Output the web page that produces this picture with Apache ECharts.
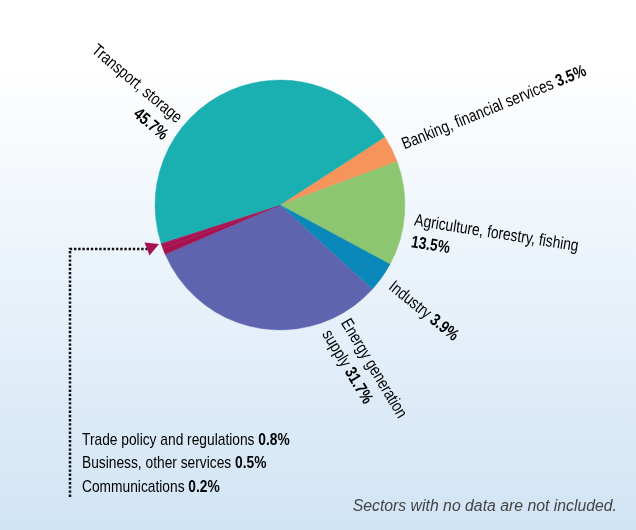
<!DOCTYPE html>
<html><head><meta charset="utf-8">
<script src="https://cdn.jsdelivr.net/npm/echarts@6/dist/echarts.min.js"></script>
<style>html,body{margin:0;padding:0;background:#fff;}#c{width:636px;height:530px;}</style>
</head><body><div id="c"></div>
<script>
// ---- data ----
const categories = ['Banking, financial services', 'Agriculture, forestry, fishing', 'Industry',
  'Energy generation supply', 'Trade policy and regulations', 'Business, other services',
  'Communications', 'Transport, storage'];
const values = [3.5, 13.5, 3.9, 31.7, 0.8, 0.5, 0.2, 45.7];
const sliceColors = ['#F7945C', '#8DC670', '#0A88B9', '#5E65AE', '#A6124F', '#A6124F', '#A6124F', '#1AAFB0'];
const groupedIdx = [4, 5, 6]; // small sectors listed in the bottom-left note
const footnote = 'Sectors with no data are not included.';

// ---- layout / style (not data) ----
const CX = 280, CY = 205, R = 125;
const FONT = '"Liberation Sans", Arial, sans-serif';
const FS = 17, SQUEEZE = 0.81; // horizontal squeeze to imitate a condensed face
// label placement: angle (deg, ccw from 3 o'clock), distance from centre, rotation, align, text lines
const labelPlace = {
  'Banking, financial services': {angle: 26, dist: 136.5, rotate: 22.2, align: 'left', lines: ['Banking, financial services '], valueBreak: false},
  'Agriculture, forestry, fishing': {angle: -11.3, dist: 135.5, rotate: -9, align: 'left', lines: ['Agriculture, forestry, fishing'], valueBreak: true},
  'Industry': {angle: -35.8, dist: 136.5, rotate: -39, align: 'left', lines: ['Industry '], valueBreak: false},
  'Energy generation supply': {angle: -65.5, dist: 133, rotate: -59, align: 'left', lines: ['Energy generation', 'supply '], valueBreak: false},
  'Transport, storage': {angle: 144.6, dist: 132, rotate: -40, align: 'right', lines: ['Transport, storage'], valueBreak: true}
};
const rich = {
  n: {fontFamily: FONT, fontSize: FS, color: '#3a3a3a', lineHeight: 22},
  v: {fontFamily: FONT, fontSize: FS, fontWeight: 'bold', color: '#161616', lineHeight: 22}
};

const chart = echarts.init(document.getElementById('c'), null, {renderer: 'canvas'});

const pieData = categories.map((name, i) => ({
  name: name,
  value: values[i],
  itemStyle: {color: sliceColors[i], borderColor: sliceColors[i], borderWidth: 0.4}
}));

function labelText(i) {
  const pl = labelPlace[categories[i]];
  const v = '{v|' + values[i].toFixed(1) + '%}';
  const ls = pl.lines.map(l => '{n|' + l + '}');
  if (pl.valueBreak) return ls.join('\n') + '\n' + v;
  ls[ls.length - 1] += v;
  return ls.join('\n');
}

const sliceLabels = [];
categories.forEach((name, i) => {
  const pl = labelPlace[name];
  if (!pl) return;
  const a = pl.angle * Math.PI / 180;
  sliceLabels.push({
    type: 'text',
    x: CX + pl.dist * Math.cos(a),
    y: CY - pl.dist * Math.sin(a),
    rotation: pl.rotate * Math.PI / 180,
    scaleX: SQUEEZE,
    silent: true,
    style: {text: labelText(i), rich: rich, align: pl.align, verticalAlign: 'middle'}
  });
});

const bottomTexts = groupedIdx.map((idx, k) => ({
  type: 'text',
  x: 82,
  y: 440 + k * 23.5,
  scaleX: SQUEEZE,
  silent: true,
  style: {
    text: '{n|' + categories[idx] + ' }{v|' + values[idx].toFixed(1) + '%}',
    rich: rich, align: 'left', verticalAlign: 'middle'
  }
}));

const option = {
  animation: false,
  backgroundColor: new echarts.graphic.LinearGradient(0, 0, 0, 1, [
    {offset: 0, color: '#ffffff'},
    {offset: 0.12, color: '#ffffff'},
    {offset: 1, color: '#d1e4f5'}
  ]),
  series: [{
    type: 'pie',
    center: [CX, CY],
    radius: R,
    startAngle: 33,
    clockwise: true,
    avoidLabelOverlap: false,
    silent: true,
    label: {show: false},
    labelLine: {show: false},
    data: pieData
  }],
  graphic: [
    {
      type: 'polyline',
      shape: {points: [[70, 497], [70, 249], [147, 249]]},
      style: {stroke: '#111', lineWidth: 2.5, lineDash: [2.4, 1.8], fill: null}
    },
    {
      type: 'polygon',
      shape: {points: [[144.5, 242.5], [159, 244], [149.5, 255.5]]},
      style: {fill: '#A6124F'}
    },
    ...sliceLabels,
    ...bottomTexts,
    {
      type: 'text',
      x: 617,
      y: 507,
      silent: true,
      style: {
        text: footnote,
        fontFamily: FONT,
        fontStyle: 'italic',
        fontSize: 15.8,
        fill: '#444',
        align: 'right',
        verticalAlign: 'middle'
      }
    }
  ]
};
chart.setOption(option);
</script>
</body></html>
